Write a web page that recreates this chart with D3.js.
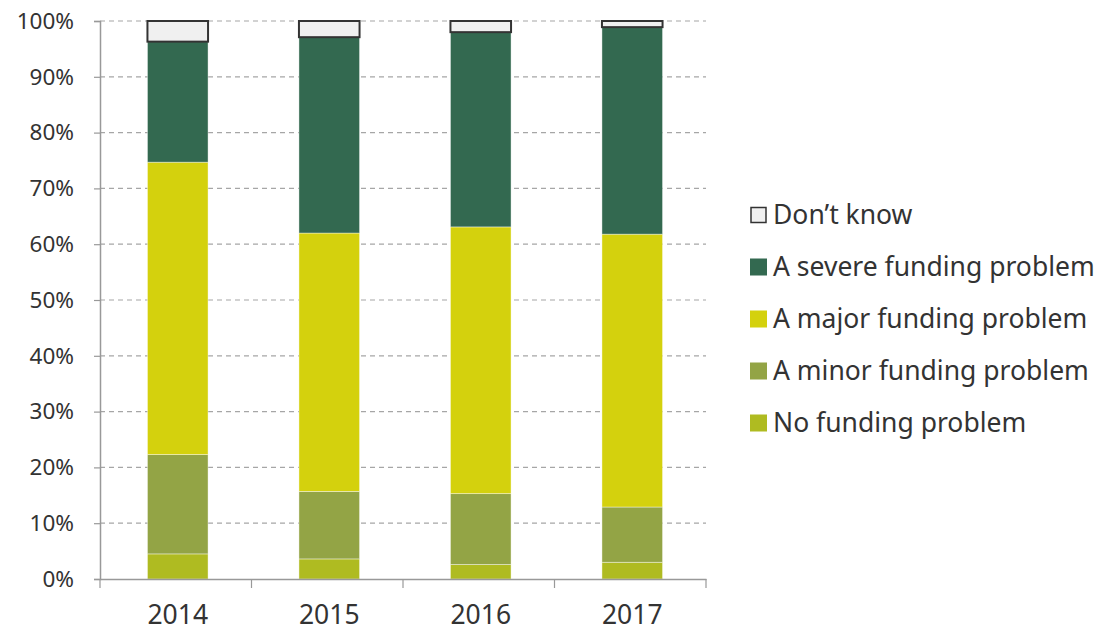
<!DOCTYPE html>
<html>
<head>
<meta charset="utf-8">
<script src="https://cdn.jsdelivr.net/npm/d3@7"></script>
<style>
  body { margin: 0; background: #fff; }
  text { font-family: "Noto Sans", "Open Sans", sans-serif; fill: #333; }
</style>
</head>
<body>
<div id="chart"></div>
<script>
// datos (porcentaje por año)
const years = ['2014', '2015', '2016', '2017'];
const noProblem = [4.5, 3.6, 2.6, 3.0];
const minorProblem = [17.8, 12.1, 12.7, 9.9];
const majorProblem = [52.4, 46.3, 47.8, 48.9];
const severeProblem = [21.6, 35.1, 34.9, 37.1];
const dontKnow = [3.7, 2.9, 2.0, 1.1];
const yTicks = [0, 10, 20, 30, 40, 50, 60, 70, 80, 90, 100];

const series = [
  { name: 'No funding problem', values: noProblem, color: '#afbb21' },
  { name: 'A minor funding problem', values: minorProblem, color: '#93a445' },
  { name: 'A major funding problem', values: majorProblem, color: '#d4d10d' },
  { name: 'A severe funding problem', values: severeProblem, color: '#336950' },
  { name: 'Don\u2019t know', values: dontKnow, color: '#f0f0f0' }
];

const svgWidth = 1102;
const svgHeight = 633;
const margin = { top: 21, right: 396, bottom: 54, left: 100 };
const width = svgWidth - margin.left - margin.right;
const height = svgHeight - margin.top - margin.bottom;

const svg = d3.select('#chart')
  .append('svg')
  .attr('width', svgWidth)
  .attr('height', svgHeight)
  .append('g')
  .attr('transform', `translate(${margin.left},${margin.top})`);

const xScale = d3.scaleBand()
  .domain(years)
  .range([0, width])
  .paddingInner(0.6)
  .paddingOuter(0.3);

const yScale = d3.scaleLinear()
  .domain([0, 100])
  .range([height, 0]);

// lineas de cuadricula
svg.append('g')
  .selectAll('line')
  .data(yTicks.filter(d => d > 0))
  .enter().append('line')
  .attr('x1', 0)
  .attr('x2', width)
  .attr('y1', d => yScale(d))
  .attr('y2', d => yScale(d))
  .attr('stroke', '#a6a6a6')
  .attr('stroke-width', 1.2)
  .attr('stroke-dasharray', '5,4');

// tabla apilada
const table = years.map((y, i) => {
  const row = { year: y };
  series.forEach(s => { row[s.name] = s.values[i]; });
  return row;
});
const stacked = d3.stack().keys(series.map(s => s.name))(table);

const barShift = 2; // las barras están un poco a la derecha del centro
stacked.forEach((layer, li) => {
  const s = series[li];
  const isDK = li === series.length - 1;
  svg.append('g')
    .selectAll('rect')
    .data(layer)
    .enter().append('rect')
    .attr('x', d => xScale(d.data.year) + barShift)
    .attr('y', d => yScale(d[1]))
    .attr('width', xScale.bandwidth())
    .attr('height', d => yScale(d[0]) - yScale(d[1]))
    .attr('fill', s.color)
    .attr('stroke', isDK ? '#333' : 'rgba(255,255,255,0.5)')
    .attr('stroke-width', isDK ? 2 : 0.8);
});

// Eje Y
const yAxis = svg.append('g')
  .call(d3.axisLeft(yScale).tickValues(yTicks).tickFormat(d => d + '%').tickSize(6).tickPadding(20));
yAxis.select('.domain').attr('stroke', '#999').attr('stroke-width', 1.5);
yAxis.selectAll('.tick line').attr('stroke', '#999').attr('stroke-width', 1.2);
yAxis.selectAll('.tick text').style('font-size', '22.5px').attr('fill', '#333');

// Eje X
const xAxis = svg.append('g')
  .attr('transform', `translate(0,${height})`)
  .call(d3.axisBottom(xScale).tickSize(0).tickPadding(26));
xAxis.select('.domain').attr('stroke', '#999').attr('stroke-width', 1.5);
xAxis.selectAll('.tick text')
  .attr('x', barShift)
  .style('font-size', '26.5px').attr('fill', '#333');

// marcas entre categorias
svg.append('g')
  .selectAll('line')
  .data(d3.range(years.length + 1))
  .enter().append('line')
  .attr('x1', d => d * width / years.length)
  .attr('x2', d => d * width / years.length)
  .attr('y1', height)
  .attr('y2', height + 9)
  .attr('stroke', '#999')
  .attr('stroke-width', 1.2);

// Leyenda
const legend = d3.select('svg').append('g')
  .attr('transform', 'translate(750,215)');
const legendItems = series.slice().reverse();
legendItems.forEach((s, i) => {
  const g = legend.append('g').attr('transform', `translate(0,${i * 52})`);
  const isDK = s.name === 'Don\u2019t know';
  g.append('rect')
    .attr('x', isDK ? 1 : 0)
    .attr('y', isDK ? -7.5 : -8.5)
    .attr('width', isDK ? 15 : 17)
    .attr('height', isDK ? 15 : 17)
    .attr('fill', s.color)
    .attr('stroke', isDK ? '#333' : 'none')
    .attr('stroke-width', 1.5);
  g.append('text')
    .attr('x', 23)
    .attr('y', 0)
    .attr('dy', '0.35em')
    .style('font-size', '26.5px')
    .text(s.name);
});
</script>
</body>
</html>
